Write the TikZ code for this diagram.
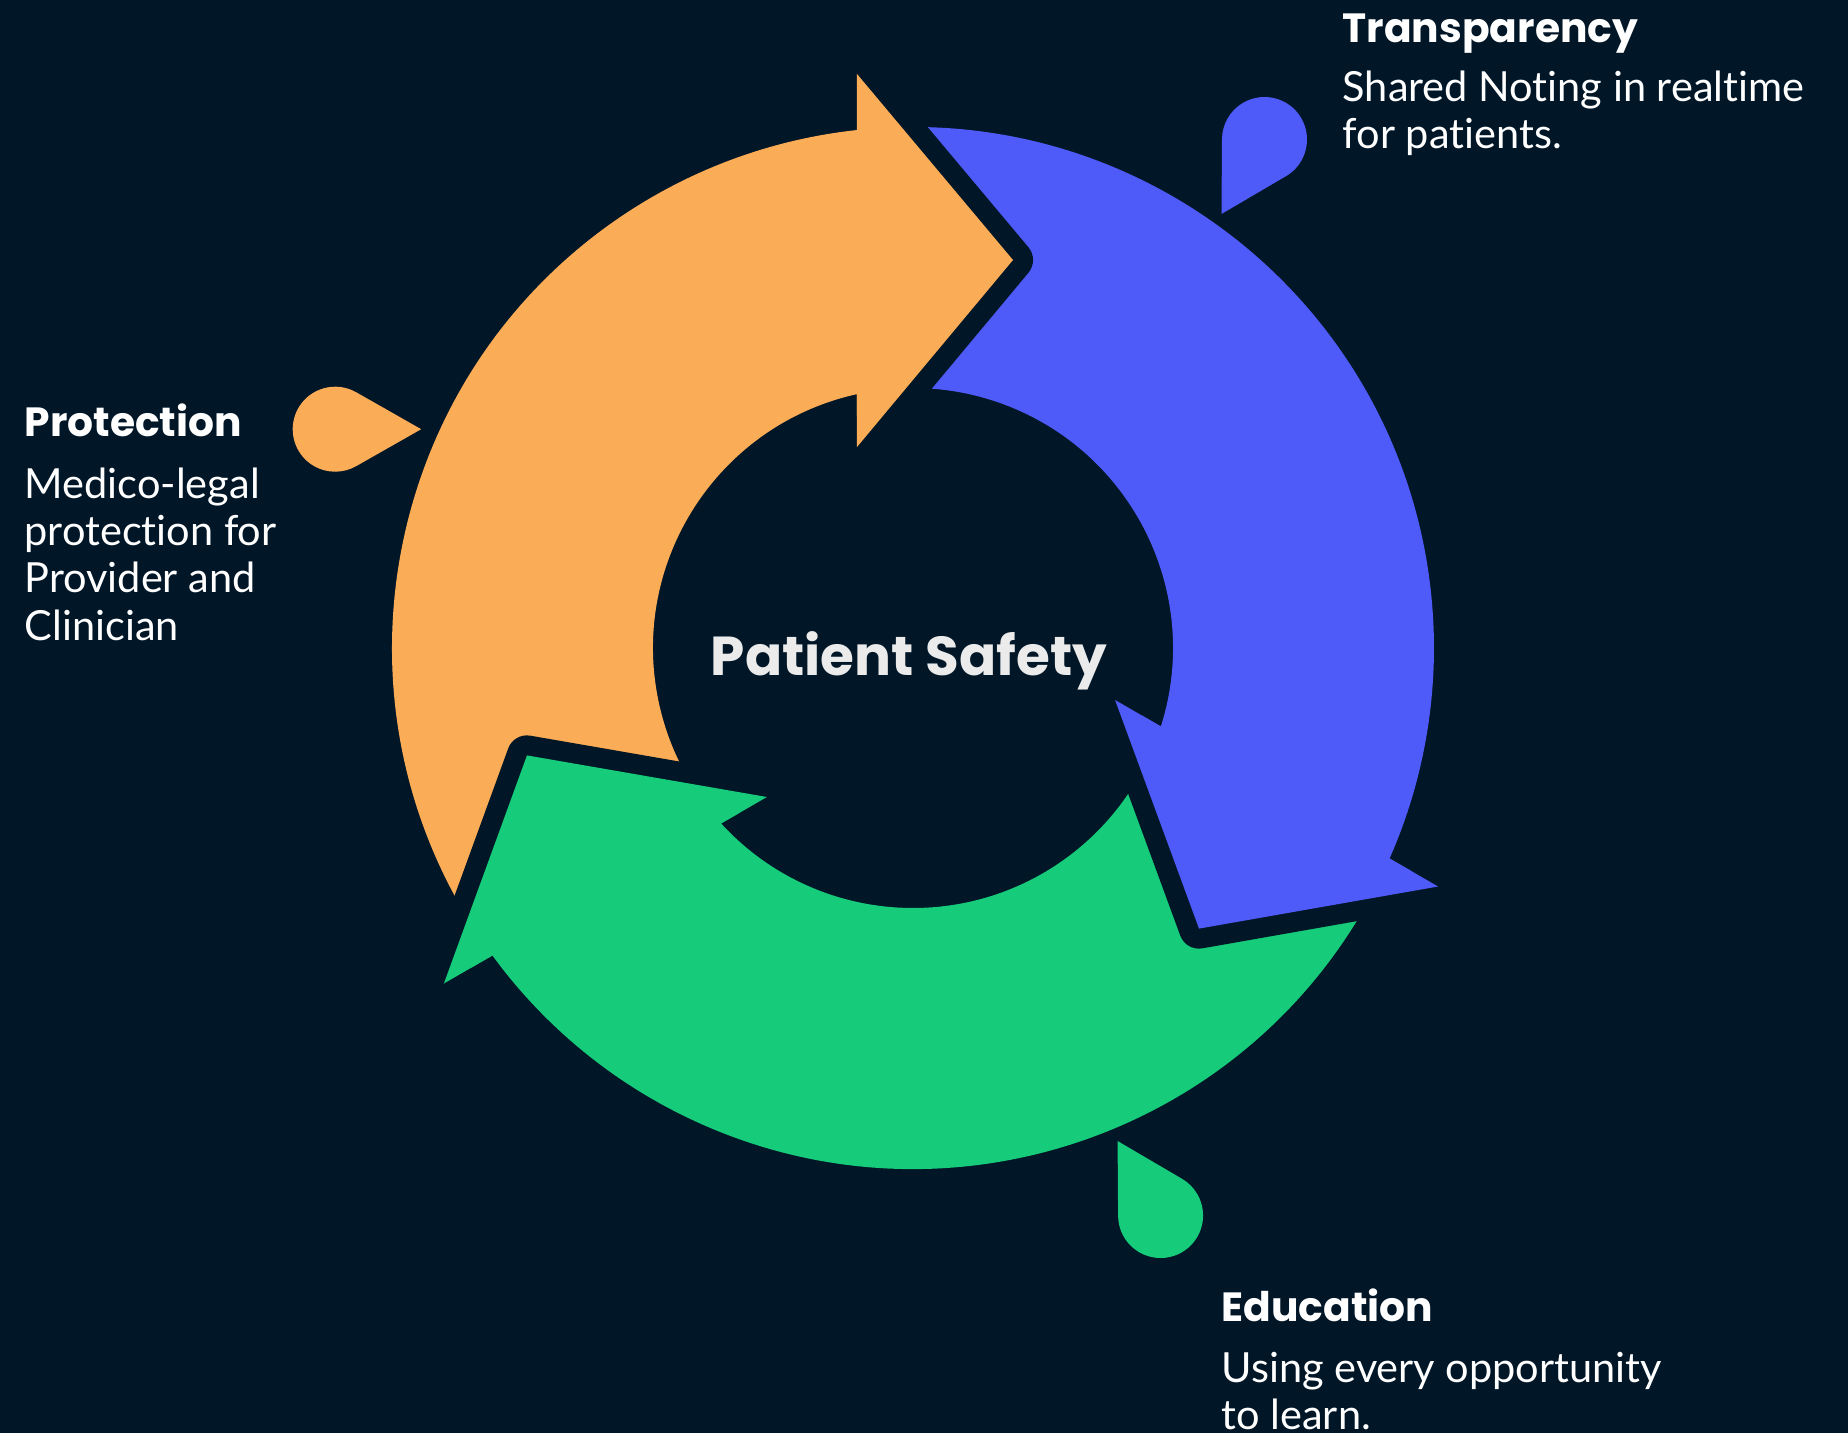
\documentclass[tikz,border=0pt]{standalone}
\usepackage{fontspec}
\setmainfont{Lato}[RawFeature={-liga;-clig;-dlig;-hlig;-calt;-rlig}]
\newfontfamily\headfont{Poppins}
\usepackage{tikz}
\usetikzlibrary{calc, positioning}
\definecolor{bg}{HTML}{011627}
\definecolor{cycorange}{HTML}{FBAC57}
\definecolor{cycblue}{HTML}{4E5BF8}
\definecolor{cycgreen}{HTML}{16CB7A}
\tikzstyle{heading} = [anchor=base west, inner sep=0pt, text=white, font=\headfont\bfseries\fontsize{11.6}{14}\selectfont]
\tikzstyle{body} = [anchor=base west, inner sep=0pt, align=left, text=white, font=\fontsize{11.8}{13.4}\selectfont]
\tikzstyle{centre} = [anchor=base, inner sep=0pt, text=black!8, font=\headfont\bfseries\fontsize{15.6}{18}\selectfont]
\tikzstyle{gap} = [draw=bg, line width=0.4cm, line join=round]
\newcommand{\ringarrow}{(215.51:521) arc[start angle=215.51, end angle=96.17, radius=521] -- (-56,574) -- (100,388) -- (-56,201) -- (102.44:260) arc[start angle=102.44, end angle=221.09, radius=260] -- cycle}
\newcommand{\arrowhead}{(-56,574) -- (100,388) -- (-56,201)}
\newcommand{\droplet}[3]{\fill[#1] ($(#2)+(#3:86)$) -- ($(#2)+(#3+60.4:42.5)$) arc[start angle=#3+60.4, delta angle=239.2, radius=42.5] -- cycle;}

\begin{document}
\begin{tikzpicture}[x=0.01cm, y=0.01cm]
	\fill[bg] (-913,-785) rectangle (935,648);
	\foreach \ang/\col in {0/cycorange, -120/cycblue, 120/cycgreen}
		\fill[\col, rotate=\ang] \ringarrow;
	\foreach \ang/\col in {0/cycorange, -120/cycblue, 120/cycgreen}{
		\draw[gap, rotate=\ang] \arrowhead;
		\fill[\col, rotate=\ang] \arrowhead -- cycle;
	}
	\droplet{cycorange}{-577.8,218.8}{0}
	\droplet{cycblue}{351.5,508.5}{240}
	\droplet{cycgreen}{247.6,-567.5}{120}
	\node (safety) [centre] at (-4,-27) {Patient Safety};
	\node (transparency) [heading] at (429,605.6) {Transparency};
	\node (transparencytext) [body] at (429,499.7) {Shared Noting in realtime\\for patients.};
	\node (protection) [heading] at (-889,211.3) {Protection};
	\node (protectiontext) [body] at (-889,8) {Medico-legal\\protection for\\Provider and\\Clinician};
	\node (education) [heading] at (308,-673) {Education};
	\node (educationtext) [body] at (308,-781.3) {Using every opportunity\\to learn.};
\end{tikzpicture}
\end{document}
